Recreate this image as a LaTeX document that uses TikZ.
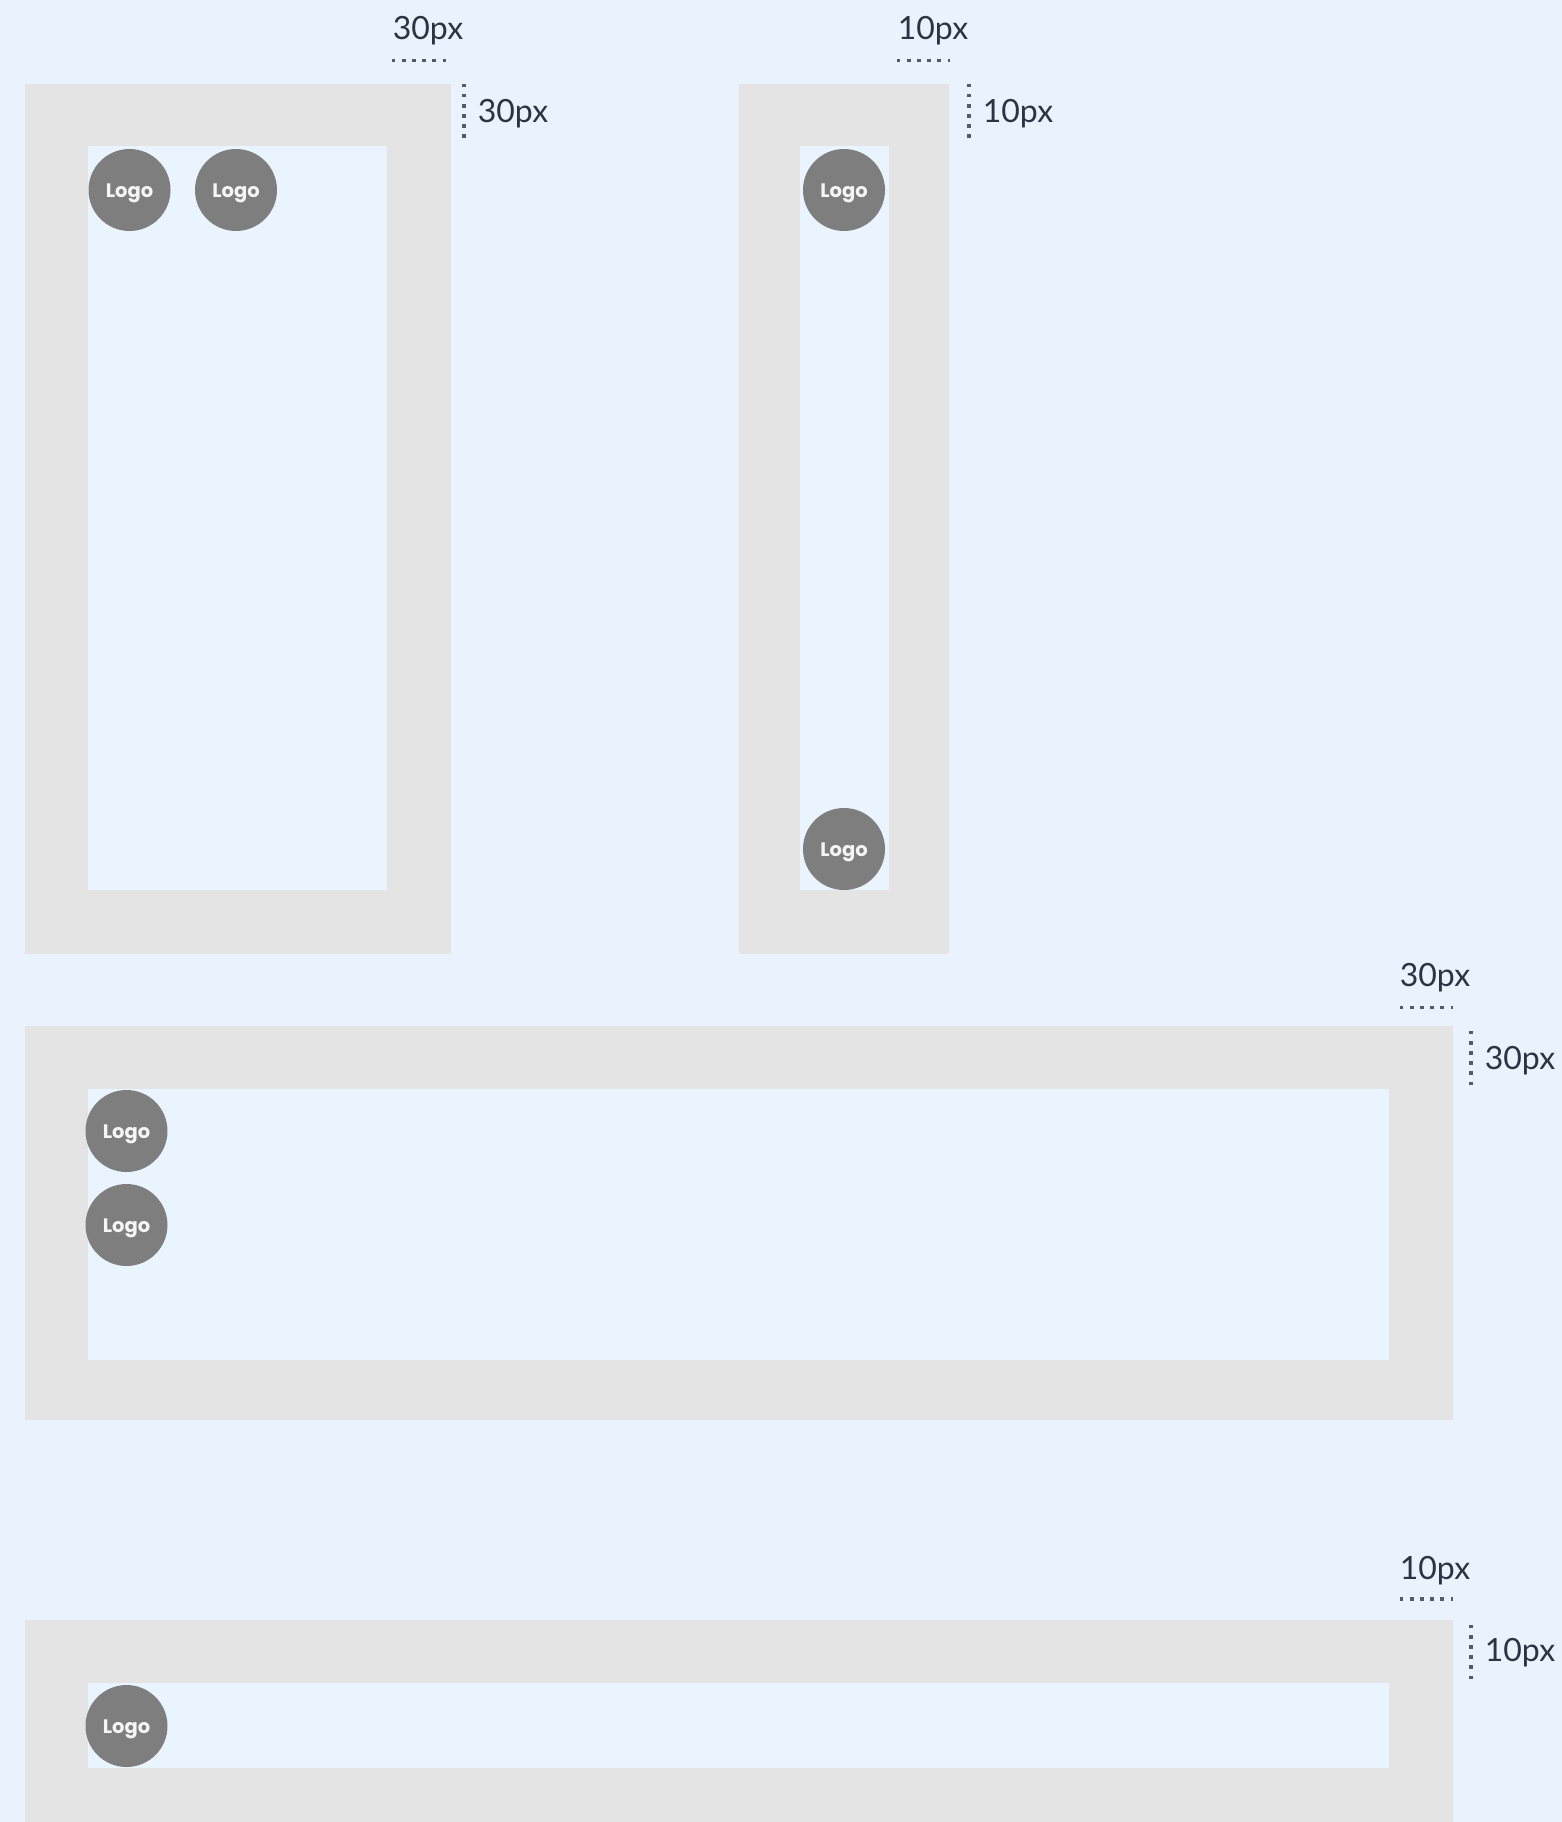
\documentclass[tikz,border=0pt]{standalone}
\usepackage{fontspec}
\setmainfont{Lato}
\newfontfamily\logofont{Poppins}
\newcommand{\logotext}{\raisebox{0pt}[18.5pt][4pt]{Logo}}
\definecolor{bgc}{HTML}{EAF2FE}
\definecolor{framec}{HTML}{E4E4E4}
\definecolor{innerc}{HTML}{EAF4FE}
\definecolor{logoc}{HTML}{7E7E7E}
\definecolor{textc}{HTML}{2C3444}
\definecolor{dotc}{HTML}{555B66}
\tikzset{
  x=1pt,y=-1pt,
  frame/.style={fill=framec},
  inner area/.style={fill=innerc},
  logo/.style={circle,fill=logoc,draw=none,minimum size=82pt,inner sep=0pt,text=white!92!logoc,font=\fontsize{19.5}{19.5}\logofont\bfseries},
  measure/.style={inner sep=0pt,text=textc,font=\fontsize{32}{32}\selectfont,anchor=base},
  dots/.style={draw=dotc,line width=3.4pt,dash pattern=on 3.4pt off 6.7pt},
}
\begin{document}
\begin{tikzpicture}
\useasboundingbox (0,0) rectangle (1562,1822);
\fill[bgc] (0,0) rectangle (1562,1822);
% panel 1
\fill[frame] (24.5,84) rectangle (450.5,954);
\fill[inner area] (87.5,146.5) rectangle (387,890);
\node[logo] (l1a) at (129.5,190) {\logotext};
\node[logo] (l1b) at (236,190) {\logotext};
\coordinate (d1a) at (392,60.5); \coordinate (d1b) at (446,60.5);
\coordinate (d1c) at (464,84); \coordinate (d1d) at (464,138);
\draw[dots] (d1a) -- (d1b);
\draw[dots] (d1c) -- (d1d);
\node[measure] (t1a) at (428,40) {30px};
\node[measure] (t1b) at (513,123) {30px};
% panel 2
\fill[frame] (739,84) rectangle (949,954);
\fill[inner area] (800,146.5) rectangle (889,890);
\node[logo] (l2a) at (844,190) {\logotext};
\node[logo] (l2b) at (844,849) {\logotext};
\coordinate (d2a) at (897,60.5); \coordinate (d2b) at (950,60.5);
\coordinate (d2c) at (969,84); \coordinate (d2d) at (969,138);
\draw[dots] (d2a) -- (d2b);
\draw[dots] (d2c) -- (d2d);
\node[measure] (t2a) at (933,40) {10px};
\node[measure] (t2b) at (1018,123) {10px};
% panel 3
\fill[frame] (24.5,1026) rectangle (1452.5,1420);
\fill[inner area] (87.5,1089) rectangle (1389,1360);
\node[logo] (l3a) at (126.5,1131) {\logotext};
\node[logo] (l3b) at (126.5,1225) {\logotext};
\coordinate (d3a) at (1400,1007.5); \coordinate (d3b) at (1453,1007.5);
\coordinate (d3c) at (1471,1031); \coordinate (d3d) at (1471,1085);
\draw[dots] (d3a) -- (d3b);
\draw[dots] (d3c) -- (d3d);
\node[measure] (t3a) at (1435,986) {30px};
\node[measure] (t3b) at (1520,1069) {30px};
% panel 4
\fill[frame] (24.5,1620) rectangle (1452.5,1822);
\fill[inner area] (87.5,1683) rectangle (1389,1768);
\node[logo] (l4a) at (126.5,1726) {\logotext};
\coordinate (d4a) at (1400,1599); \coordinate (d4b) at (1453,1599);
\coordinate (d4c) at (1471,1625); \coordinate (d4d) at (1471,1679);
\draw[dots] (d4a) -- (d4b);
\draw[dots] (d4c) -- (d4d);
\node[measure] (t4a) at (1435,1579) {10px};
\node[measure] (t4b) at (1520,1661) {10px};
\end{tikzpicture}
\end{document}
